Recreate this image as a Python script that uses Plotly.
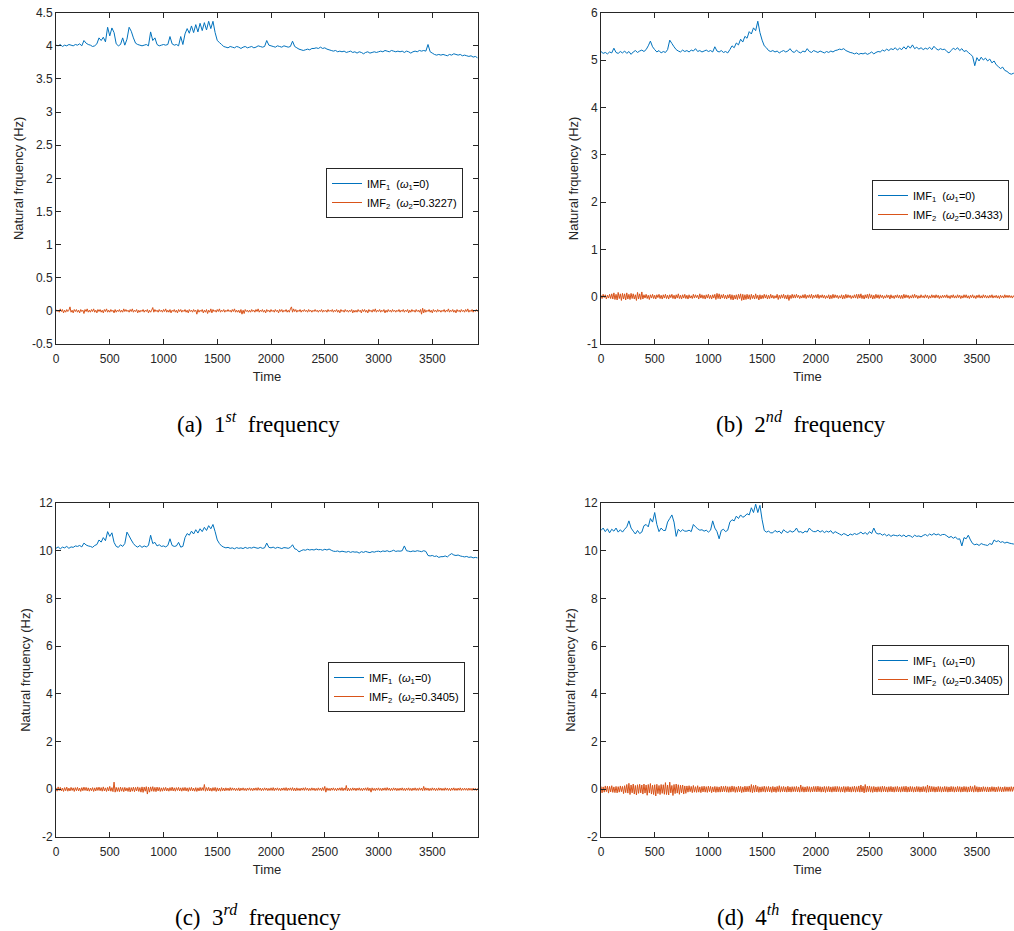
import plotly.graph_objects as go

# ---------------- data ----------------
time_imf1 = list(range(0, 3921, 20))   # sample times of IMF1 readings
time_imf2 = list(range(0, 3921, 10))   # sample times of IMF2 readings

imf1_a = [4.01,4.00,4.02,3.99,4.01,4.00,4.02,4.01,4.00,4.02,
          4.01,4.03,4.00,4.08,4.04,4.02,4.01,3.99,4.00,4.03,
          4.12,4.08,4.13,4.06,4.28,4.15,4.27,4.20,4.03,4.00,
          4.02,4.12,4.01,4.10,4.28,4.22,4.12,4.04,4.02,4.01,
          4.00,4.01,4.02,4.00,4.21,4.08,4.12,4.02,4.00,4.01,
          4.02,4.01,4.02,4.14,4.03,4.01,4.02,4.00,4.14,4.02,
          4.18,4.26,4.19,4.30,4.20,4.32,4.21,4.34,4.23,4.35,
          4.24,4.37,4.26,4.37,4.20,4.08,4.05,4.02,3.99,3.98,
          3.97,3.99,3.98,3.97,3.99,3.98,3.96,3.98,3.99,3.97,
          3.98,3.99,3.97,3.98,4.00,3.99,3.98,3.99,4.08,4.01,
          4.00,3.99,3.98,4.00,3.99,3.98,4.00,3.99,3.98,3.99,
          4.07,3.99,3.97,3.95,3.94,3.93,3.94,3.95,3.94,3.96,
          3.96,3.97,3.96,3.98,3.96,3.97,3.95,3.94,3.93,3.92,
          3.93,3.91,3.92,3.91,3.92,3.90,3.91,3.92,3.90,3.91,
          3.89,3.91,3.90,3.88,3.90,3.91,3.89,3.90,3.91,3.90,
          3.91,3.92,3.91,3.93,3.92,3.91,3.93,3.92,3.91,3.92,
          3.91,3.92,3.90,3.92,3.91,3.89,3.91,3.92,3.91,3.93,
          3.92,3.93,3.92,4.02,3.91,3.89,3.87,3.86,3.87,3.86,
          3.87,3.86,3.85,3.87,3.86,3.88,3.87,3.86,3.87,3.85,
          3.86,3.85,3.84,3.85,3.83,3.84,3.82]
imf2_a = [.02,-.01,.01,-.02,.03,-.01,.02,-.03,.01,-.02,.02,-.01,.01,.06,-.02,.01,-.03,.02,-.01,.02,
          -.02,.01,-.03,.02,-.01,.01,-.04,.02,-.01,.03,-.02,.01,-.02,.02,-.01,.03,-.02,.01,-.03,.02,
          -.01,.02,-.02,.01,-.03,.02,-.01,.03,-.02,.01,-.02,.02,-.01,.01,-.03,.02,-.02,.01,-.01,.02,
          -.02,.01,-.02,.03,-.01,.02,-.01,.01,-.02,.02,-.01,.03,-.02,.01,-.01,.02,-.03,.01,-.02,.01,
          -.01,.02,-.02,.01,-.01,.02,-.03,.01,-.02,.01,.05,-.02,.02,-.01,.01,-.02,.02,-.01,.01,-.02,
          .02,-.01,.03,-.02,.01,-.02,.02,-.03,.01,-.01,.02,-.02,.01,-.03,.02,-.01,.02,-.02,.01,-.01,
          .02,-.02,.01,-.03,.02,-.01,.01,-.02,.02,-.01,.01,-.05,.02,-.02,.01,-.01,.02,-.03,.01,-.02,
          .02,-.04,.01,-.02,.03,-.03,.02,-.01,.01,-.02,.02,-.01,.03,-.02,.01,-.01,.02,-.02,.01,-.01,
          .02,-.01,.01,-.02,.02,-.01,.03,-.02,.01,-.02,.01,-.03,.02,-.05,.01,-.04,.02,-.01,.01,-.02,
          .01,-.02,.02,-.01,.01,-.02,.02,-.01,.03,-.02,.01,-.01,.02,-.02,.01,-.03,.02,-.01,.01,-.02,
          .02,-.01,.01,-.02,.02,-.01,.01,-.03,.02,-.01,.02,-.02,.01,-.01,.02,-.02,.01,-.02,.03,.06,
          -.02,.03,-.01,.02,-.02,.01,-.01,.02,-.02,.01,-.01,.02,-.01,.01,-.02,.02,-.01,.01,-.02,.01,
          -.01,.02,-.01,.01,-.02,.01,-.01,.02,-.02,.01,-.01,.01,-.02,.02,-.01,.01,-.01,.02,-.02,.01,
          -.01,.02,-.02,.01,-.03,.02,-.01,.01,-.02,.02,-.01,.01,-.02,.01,-.01,.02,-.03,.01,-.02,.01,
          -.02,.02,-.01,.01,-.03,.02,-.01,.02,-.02,.01,-.03,.02,-.01,.01,-.02,.02,-.01,.03,-.02,.01,
          -.01,.02,-.02,.01,-.01,.02,-.03,.01,-.02,.02,-.01,.01,-.02,.02,-.01,.01,-.02,.01,-.01,.02,
          -.02,.01,-.01,.02,-.02,.01,-.01,.02,-.03,.01,-.02,.02,-.01,.01,-.02,.02,-.01,.01,-.02,.02,
          -.05,.04,-.03,.02,-.02,.01,-.01,.02,-.02,.01,-.03,.02,-.01,.01,-.02,.02,-.01,.01,-.02,.01,
          -.01,.02,-.02,.01,-.01,.03,-.02,.01,-.01,.02,-.02,.01,-.03,.02,-.01,.01,-.02,.02,-.01,.01,
          -.02,.02,-.01,.03,-.02,.01,-.01,.02,-.02,.01,-.01,.02,-.01]

imf1_b = [5.18,5.14,5.16,5.13,5.17,5.15,5.25,5.16,5.14,5.18,
          5.15,5.19,5.14,5.18,5.12,5.17,5.20,5.16,5.19,5.21,
          5.18,5.22,5.30,5.40,5.28,5.22,5.17,5.20,5.15,5.18,
          5.16,5.22,5.42,5.35,5.28,5.22,5.19,5.17,5.21,5.18,
          5.20,5.17,5.21,5.19,5.24,5.18,5.20,5.17,5.19,5.21,
          5.18,5.20,5.17,5.28,5.19,5.17,5.20,5.16,5.18,5.15,
          5.22,5.30,5.26,5.36,5.32,5.44,5.38,5.50,5.46,5.60,
          5.55,5.68,5.62,5.82,5.58,5.42,5.30,5.26,5.20,5.18,
          5.20,5.17,5.19,5.15,5.18,5.20,5.17,5.19,5.24,5.18,
          5.16,5.21,5.17,5.15,5.19,5.17,5.24,5.18,5.16,5.20,
          5.18,5.16,5.19,5.17,5.15,5.18,5.16,5.19,5.17,5.20,
          5.21,5.23,5.22,5.24,5.20,5.18,5.16,5.15,5.13,5.15,
          5.12,5.14,5.13,5.15,5.12,5.14,5.17,5.13,5.16,5.18,
          5.17,5.21,5.19,5.23,5.20,5.24,5.22,5.26,5.21,5.25,
          5.22,5.28,5.23,5.30,5.25,5.32,5.24,5.27,5.23,5.26,
          5.22,5.25,5.23,5.27,5.22,5.29,5.24,5.21,5.24,5.22,
          5.23,5.18,5.15,5.20,5.25,5.22,5.26,5.20,5.24,5.18,
          5.20,5.16,5.12,5.08,4.88,5.05,4.98,5.06,5.00,5.04,
          4.98,5.02,4.94,4.98,4.90,4.86,4.82,4.85,4.78,4.76,
          4.72,4.70,4.72,4.68,4.70,4.69,4.70]
imf2_b = [.03,-.04,.05,-.02,.04,-.05,.03,-.03,.05,-.04,.06,-.05,.08,-.06,.05,-.07,.09,-.04,.06,-.08,
          .07,-.05,.06,-.07,.08,-.05,.05,-.06,.07,-.04,.06,-.05,.04,-.08,.09,-.05,.06,-.06,.10,-.05,
          .04,-.03,.05,-.04,.03,-.06,.04,-.03,.05,-.04,.03,-.05,.04,-.02,.05,-.04,.03,-.05,.04,-.03,
          .05,-.04,.03,-.05,.04,-.02,.05,-.04,.03,-.05,.04,-.03,.06,-.04,.03,-.05,.04,-.03,.05,-.04,
          .03,-.05,.04,-.03,.02,-.04,.05,-.03,.04,-.02,.03,-.05,.06,-.03,.04,-.04,.03,-.05,.04,-.03,
          .05,-.04,.03,-.05,.04,-.03,.05,-.06,.07,-.04,.06,-.05,.04,-.03,.05,-.04,.03,-.05,.04,-.03,
          .05,-.06,.04,-.07,.03,-.05,.04,-.06,.05,-.04,.06,-.08,.05,-.07,.04,-.06,.05,-.05,.04,-.06,
          .05,-.04,.03,-.05,.06,-.04,.03,-.07,.04,-.05,.03,-.04,.05,-.03,.04,-.05,.03,-.04,.05,-.03,
          .03,-.04,.02,-.03,.05,-.06,.03,-.04,.04,-.03,.05,-.04,.03,-.05,.04,-.08,.03,-.04,.05,-.03,
          .04,-.03,.05,-.02,.03,-.04,.02,-.03,.04,-.03,.05,-.04,.03,-.02,.04,-.03,.05,-.04,.03,-.02,
          .04,-.03,.05,-.04,.03,-.02,.04,-.03,.03,-.04,.02,-.03,.04,-.05,.03,-.04,.05,-.03,.04,-.02,
          .03,-.04,.02,-.03,.04,-.05,.03,-.04,.05,-.03,.04,-.02,.03,-.04,.02,-.03,.04,-.03,.05,-.04,
          .05,-.03,.06,-.04,.03,-.05,.04,-.03,.05,-.04,.06,-.03,.04,-.05,.03,-.04,.05,-.03,.04,-.04,
          .04,-.02,.03,-.04,.02,-.03,.04,-.02,.03,-.05,.04,-.03,.02,-.04,.03,-.02,.04,-.03,.03,-.04,
          .03,-.04,.05,-.03,.04,-.02,.03,-.04,.02,-.03,.04,-.03,.05,-.02,.03,-.04,.02,-.03,.04,-.02,
          .02,-.03,.04,-.02,.03,-.04,.02,-.03,.04,-.02,.03,-.03,.04,-.02,.03,-.04,.02,-.03,.03,-.02,
          .03,-.02,.04,-.03,.02,-.04,.03,-.02,.04,-.03,.02,-.03,.04,-.02,.03,-.04,.02,-.03,.04,-.02,
          .04,-.03,.02,-.04,.03,-.02,.04,-.03,.02,-.04,.03,-.02,.04,-.03,.02,-.03,.04,-.02,.03,-.03,
          .02,-.03,.03,-.02,.04,-.03,.02,-.02,.03,-.03,.02,-.04,.03,-.02,.02,-.03,.04,-.02,.03,-.02,
          .03,-.02,.02,-.03,.02,-.02,.03,-.02,.02,-.03,.02,-.02,.02]

imf1_c = [10.10,10.16,10.08,10.15,10.12,10.18,10.10,10.16,10.14,10.20,
          10.18,10.22,10.16,10.32,10.24,10.20,10.18,10.14,10.22,10.26,
          10.45,10.36,10.55,10.42,10.80,10.60,10.75,10.35,10.18,10.14,
          10.25,10.18,10.30,10.78,10.62,10.45,10.30,10.20,10.15,10.22,
          10.14,10.20,10.16,10.22,10.65,10.30,10.35,10.20,10.25,10.18,
          10.20,10.16,10.22,10.50,10.22,10.18,10.20,10.35,10.15,10.18,
          10.55,10.72,10.65,10.82,10.70,10.88,10.74,10.92,10.80,10.98,
          10.85,11.05,10.92,11.10,10.80,10.45,10.30,10.20,10.15,10.12,
          10.14,10.10,10.12,10.08,10.13,10.10,10.12,10.09,10.14,10.10,
          10.13,10.11,10.15,10.12,10.10,10.14,10.10,10.12,10.32,10.14,
          10.12,10.15,10.10,10.14,10.12,10.09,10.13,10.12,10.10,10.14,
          10.25,10.08,10.05,9.95,10.00,10.04,10.02,10.06,10.03,10.05,
          10.03,10.07,10.04,10.05,10.02,10.06,10.03,10.07,10.02,9.98,
          9.97,9.99,9.95,9.98,9.96,9.94,9.97,9.93,9.96,9.94,
          9.95,9.90,9.96,9.93,9.97,9.94,9.92,9.96,9.94,9.97,
          9.98,9.95,9.99,9.97,10.00,9.96,9.98,10.02,9.97,9.99,
          9.98,10.00,10.20,10.00,9.98,9.96,9.99,9.97,10.00,9.98,
          9.96,10.00,9.97,9.80,9.78,9.80,9.76,9.78,9.72,9.75,
          9.75,9.78,9.74,9.82,9.88,9.82,9.80,9.82,9.78,9.76,
          9.74,9.76,9.72,9.74,9.70,9.72,9.70]
imf2_c = [.06,-.08,.10,-.05,.08,-.07,.05,-.09,.07,-.06,.09,-.08,.05,-.07,.08,-.05,.06,-.09,.07,-.06,
          .08,-.07,.05,-.09,.07,-.06,.09,-.05,.08,-.07,.06,-.08,.05,-.06,.07,-.09,.06,-.07,.08,-.05,
          .09,-.06,.07,-.08,.10,-.07,.06,-.09,.08,-.07,.12,-.08,.07,-.10,.30,-.12,.08,-.09,.07,-.10,
          .09,-.08,.07,-.10,.08,-.07,.06,-.09,.08,-.11,.07,-.08,.09,-.10,.08,-.07,.10,-.09,.07,-.12,
          .10,-.13,.09,-.08,.11,-.20,.09,-.12,.10,-.08,.11,-.09,.08,-.10,.09,-.07,.08,-.09,.06,-.08,
          .07,-.06,.08,-.07,.05,-.08,.07,-.06,.09,-.07,.06,-.08,.07,-.05,.08,-.07,.06,-.08,.07,-.06,
          .08,-.07,.06,-.09,.07,-.06,.08,-.07,.05,-.08,.07,-.09,.06,-.07,.08,-.06,.07,-.05,.20,-.08,
          .07,-.06,.08,-.07,.05,-.08,.07,-.06,.08,-.09,.06,-.07,.05,-.08,.07,-.06,.05,-.07,.06,-.05,
          .05,-.06,.07,-.05,.06,-.04,.05,-.06,.04,-.05,.06,-.07,.05,-.04,.06,-.05,.04,-.06,.05,-.04,
          .06,-.05,.04,-.06,.05,-.04,.06,-.05,.07,-.04,.05,-.06,.04,-.05,.06,-.04,.05,-.06,.04,-.05,
          .06,-.05,.07,-.06,.05,-.04,.06,-.05,.04,-.06,.05,-.04,.06,-.05,.07,-.06,.05,-.04,.06,-.05,
          .07,-.06,.05,-.07,.06,-.05,.04,-.06,.05,-.04,.06,-.05,.07,-.04,.05,-.06,.04,-.05,.06,-.04,
          .05,-.06,.04,-.05,.06,-.04,.05,-.06,.07,-.05,.12,-.12,.06,-.05,.04,-.06,.05,-.04,.06,-.05,
          .04,-.06,.05,-.04,.06,-.05,.07,-.06,.05,-.04,.16,-.07,.05,-.06,.04,-.05,.06,-.04,.05,-.06,
          .05,-.04,.06,-.05,.04,-.06,.05,-.04,.06,-.05,.07,-.06,.05,-.12,.06,-.05,.04,-.06,.05,-.04,
          .06,-.05,.04,-.06,.05,-.04,.06,-.05,.07,-.04,.05,-.06,.04,-.05,.06,-.04,.05,-.06,.04,-.05,
          .05,-.04,.06,-.05,.04,-.06,.05,-.04,.06,-.05,.04,-.06,.05,-.04,.06,-.05,.04,-.05,.06,-.04,
          .05,-.06,.12,-.05,.06,-.04,.05,-.06,.04,-.05,.06,-.04,.05,-.06,.04,-.05,.06,-.04,.05,-.05,
          .04,-.05,.06,-.04,.05,-.05,.04,-.06,.05,-.04,.06,-.05,.04,-.05,.05,-.04,.06,-.05,.04,-.04,
          .05,-.04,.04,-.05,.05,-.04,.04,-.05,.05,-.04,.04,-.05,.04]

imf1_d = [10.85,10.95,10.80,10.92,10.75,10.90,10.82,10.95,10.78,10.88,
          10.78,10.90,11.00,11.25,10.95,10.82,10.70,10.85,10.72,10.78,
          11.05,11.10,11.00,11.35,11.20,11.60,11.10,10.80,10.95,10.85,
          10.85,11.20,11.35,11.50,11.20,10.60,10.90,10.80,10.88,10.82,
          10.82,10.86,10.80,11.10,11.00,10.92,10.86,10.88,10.82,10.86,
          10.78,10.86,11.25,10.95,10.80,10.50,10.85,10.90,10.80,10.86,
          11.20,11.30,11.25,11.45,11.35,11.50,11.40,11.45,11.55,11.50,
          11.80,11.60,11.95,11.60,11.90,11.30,10.85,10.78,10.82,10.75,
          10.75,10.85,10.78,10.82,10.72,10.88,10.80,10.76,10.84,10.78,
          10.82,10.95,10.78,10.80,10.74,10.82,10.78,10.95,10.85,10.80,
          10.80,10.86,10.78,10.84,10.76,10.82,10.78,10.84,10.72,10.80,
          10.75,10.70,10.65,10.72,10.68,10.62,10.70,10.66,10.72,10.68,
          10.72,10.78,10.70,10.76,10.68,10.80,10.72,10.95,10.75,10.70,
          10.72,10.65,10.70,10.62,10.68,10.60,10.66,10.64,10.62,10.66,
          10.60,10.66,10.58,10.64,10.62,10.56,10.65,10.60,10.62,10.58,
          10.64,10.68,10.62,10.70,10.65,10.72,10.66,10.70,10.64,10.68,
          10.68,10.62,10.55,10.60,10.52,10.58,10.48,10.50,10.20,10.55,
          10.50,10.65,10.45,10.30,10.25,10.28,10.22,10.30,10.26,10.24,
          10.22,10.30,10.26,10.45,10.38,10.42,10.35,10.38,10.32,10.36,
          10.32,10.30,10.28,10.30,10.26,10.28,10.30]
imf2_d = [.12,-.15,.10,-.12,.14,-.10,.13,-.16,.12,-.11,.15,-.13,.10,-.14,.12,-.15,.11,-.12,.14,-.10,
          .12,-.18,.15,-.14,.20,-.16,.25,-.22,.18,-.15,.22,-.20,.16,-.24,.19,-.17,.21,-.15,.18,-.20,
          .22,-.16,.18,-.25,.20,-.15,.24,-.20,.17,-.22,.19,-.28,.21,-.18,.16,-.22,.20,-.17,.19,-.21,
          .28,-.22,.18,-.24,.30,-.15,.16,-.26,.20,-.18,.22,-.16,.19,-.21,.17,-.15,.18,-.20,.14,-.17,
          .14,-.12,.15,-.10,.12,-.14,.16,-.12,.11,-.13,.15,-.12,.10,-.14,.12,-.11,.13,-.12,.11,-.13,
          .13,-.10,.12,-.14,.10,-.11,.12,-.13,.11,-.12,.10,-.12,.13,-.11,.12,-.10,.14,-.12,.11,-.13,
          .11,-.12,.14,-.10,.12,-.13,.10,-.12,.13,-.11,.12,-.14,.10,-.12,.13,-.11,.12,-.10,.14,-.12,
          .20,-.14,.16,-.12,.18,-.11,.12,-.13,.10,-.12,.11,-.10,.13,-.12,.11,-.10,.12,-.11,.10,-.13,
          .12,-.11,.10,-.13,.12,-.10,.15,-.12,.11,-.10,.12,-.11,.10,-.12,.13,-.11,.10,-.12,.11,-.10,
          .11,-.10,.12,-.11,.10,-.12,.18,-.10,.11,-.12,.10,-.11,.12,-.10,.11,-.12,.10,-.11,.12,-.10,
          .12,-.11,.13,-.10,.11,-.12,.10,-.11,.12,-.13,.11,-.10,.12,-.11,.10,-.12,.11,-.10,.12,-.11,
          .12,-.10,.11,-.12,.10,-.11,.12,-.13,.11,-.10,.12,-.11,.10,-.12,.11,-.10,.13,-.12,.11,-.10,
          .14,-.12,.18,-.11,.13,-.15,.20,-.12,.13,-.10,.14,-.12,.11,-.13,.12,-.11,.10,-.12,.11,-.10,
          .11,-.12,.13,-.10,.12,-.11,.10,-.12,.11,-.10,.12,-.11,.10,-.12,.11,-.10,.12,-.11,.10,-.12,
          .11,-.10,.12,-.11,.13,-.12,.10,-.11,.12,-.10,.11,-.12,.10,-.11,.12,-.10,.11,-.12,.10,-.11,
          .12,-.10,.11,-.13,.18,-.12,.14,-.11,.12,-.10,.11,-.12,.10,-.11,.12,-.10,.11,-.12,.10,-.11,
          .12,-.10,.11,-.12,.10,-.11,.12,-.10,.11,-.12,.10,-.11,.12,-.10,.11,-.12,.10,-.11,.12,-.10,
          .11,-.12,.10,-.11,.14,-.10,.11,-.12,.16,-.10,.11,-.12,.10,-.11,.09,-.10,.11,-.09,.10,-.11,
          .10,-.11,.09,-.10,.11,-.09,.10,-.11,.09,-.10,.11,-.09,.10,-.11,.09,-.10,.11,-.09,.10,-.09,
          .10,-.09,.11,-.09,.10,-.09,.10,-.11,.09,-.10,.09,-.10,.09]

omega2 = ["0.3227", "0.3433", "0.3405", "0.3405"]
captions = ["(a)\u20021<sup><i>st</i></sup>\u2002frequency",
            "(b)\u20022<sup><i>nd</i></sup>\u2002frequency",
            "(c)\u20023<sup><i>rd</i></sup>\u2002frequency",
            "(d)\u20024<sup><i>th</i></sup>\u2002frequency"]
y_ticks = [[-0.5,0,0.5,1,1.5,2,2.5,3,3.5,4,4.5], [-1,0,1,2,3,4,5,6],
           [-2,0,2,4,6,8,10,12], [-2,0,2,4,6,8,10,12]]
y_ranges = [[-0.5,4.5], [-1,6], [-2,12], [-2,12]]
x_ticks = [0,500,1000,1500,2000,2500,3000,3500]
imf1_all = [imf1_a, imf1_b, imf1_c, imf1_d]
imf2_all = [imf2_a, imf2_b, imf2_c, imf2_d]

# ---------------- layout ----------------
W, H = 1014, 931
BLUE, ORANGE, AX = "#0072BD", "#D95319", "#262626"
SANS = "Liberation Sans, Arial, sans-serif"
px_l = [(56, 478), (601, 1014), (56, 478), (601, 1014)]
px_v = [(12.7, 344), (12.7, 344), (503, 837), (503, 837)]
xmax = [3925, (1014-601)/0.1074, 3925, (1014-601)/0.1074]
legpos = [(326, 168), (872, 180), (328, 662), (872, 645)]
cap_pos = [(258, 423), (801, 423), (258, 915), (800, 915)]

fig = go.Figure()
for i in range(4):
    k = "" if i == 0 else str(i + 1)
    leg = "legend" if i == 0 else "legend%d" % (i + 1)
    fig.add_trace(go.Scatter(x=time_imf1, y=imf1_all[i], mode="lines",
                             line=dict(color=BLUE, width=1, simplify=False),
                             name="IMF<sub>1</sub>  (<i>ω</i><sub>1</sub>=0)",
                             xaxis="x" + k, yaxis="y" + k, legend=leg))
    fig.add_trace(go.Scatter(x=time_imf2, y=imf2_all[i], mode="lines",
                             line=dict(color=ORANGE, width=1, simplify=False),
                             name="IMF<sub>2</sub>  (<i>ω</i><sub>2</sub>=%s)" % omega2[i],
                             xaxis="x" + k, yaxis="y" + k, legend=leg))
    x0, x1 = px_l[i]
    yt, yb = px_v[i]
    right_cut = (i % 2 == 1)
    fig.layout["xaxis" + k] = dict(
        domain=[x0 / W, min(x1 / W, 1.0)], range=[0, xmax[i]], anchor="y" + k,
        tickvals=x_ticks, ticks="inside", ticklen=5, tickcolor=AX,
        showline=True, linecolor=AX, linewidth=1, mirror="ticks",
        showgrid=False, zeroline=False, ticklabelstandoff=4,
        tickfont=dict(family=SANS, size=12, color=AX),
        title=dict(text="Time", font=dict(family=SANS, size=13, color=AX), standoff=6),
    )
    fig.layout["yaxis" + k] = dict(
        domain=[1 - yb / H, 1 - yt / H], range=y_ranges[i], anchor="x" + k,
        tickvals=y_ticks[i], ticktext=["%g" % v for v in y_ticks[i]],
        ticks="inside", ticklen=5, tickcolor=AX,
        showline=True, linecolor=AX, linewidth=1, mirror=(False if right_cut else "ticks"),
        showgrid=False, zeroline=False,
        tickfont=dict(family=SANS, size=12, color=AX),
        title=dict(text="Natural frquency (Hz)", font=dict(family=SANS, size=13, color=AX), standoff=5),
    )
    lx, ly = legpos[i]
    fig.layout[leg] = dict(
        x=lx / W, y=1 - ly / H, xanchor="left", yanchor="top", xref="paper", yref="paper",
        bgcolor="white", bordercolor=AX, borderwidth=1,
        font=dict(family=SANS, size=11, color="black"),
        tracegroupgap=0, itemwidth=30,
    )
    cx, cy = cap_pos[i]
    fig.add_annotation(x=cx / W, y=1 - cy / H, xref="paper", yref="paper",
                       text=captions[i], showarrow=False, xanchor="center", yanchor="middle",
                       font=dict(family="Liberation Serif, serif", size=23, color="black"))

fig.update_layout(width=W, height=H, margin=dict(l=0, r=0, t=0, b=0, autoexpand=False),
                  paper_bgcolor="white", plot_bgcolor="white", showlegend=True)
fig.write_html("out.html")
